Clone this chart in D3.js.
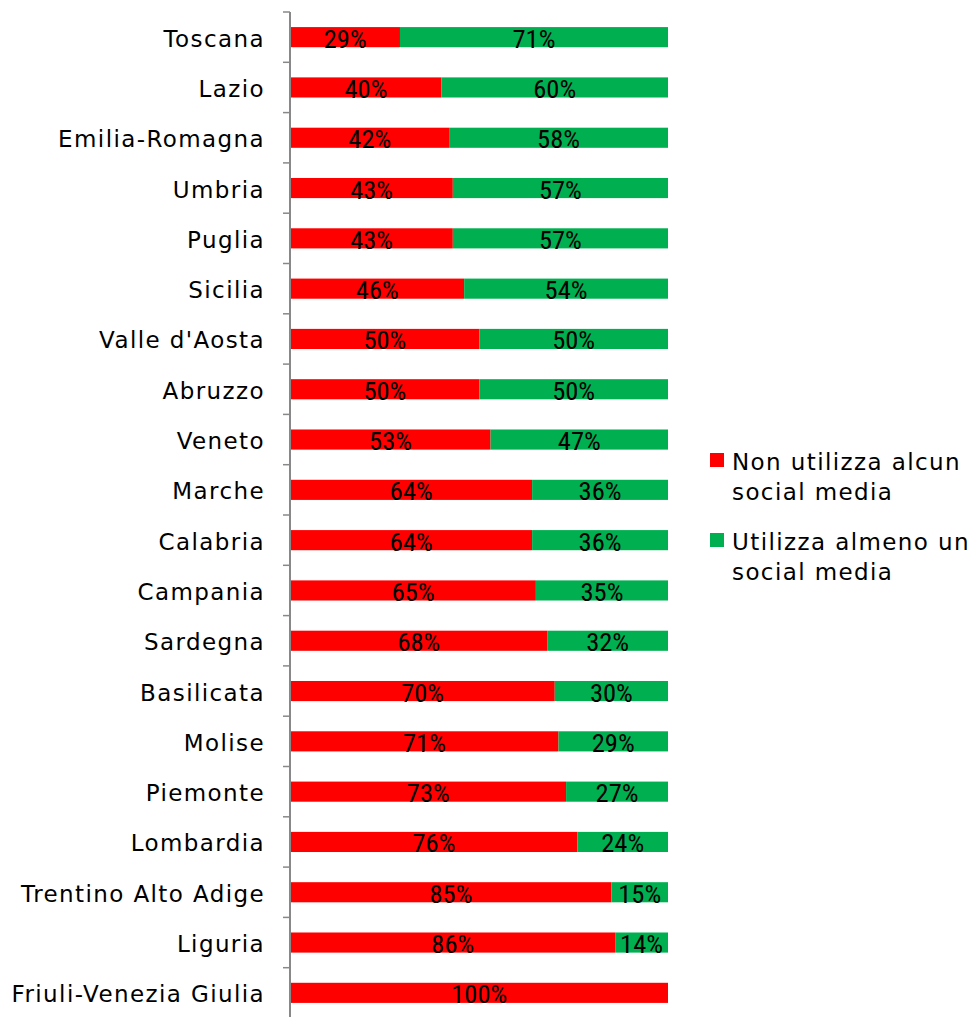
<!DOCTYPE html>
<html><head><meta charset="utf-8">
<script src="https://cdn.jsdelivr.net/npm/d3@7"></script>
<style>body{margin:0;background:#fff}</style>
</head><body>
<svg id="c" width="972" height="1017"></svg>
<script>
const categories = ["Toscana","Lazio","Emilia-Romagna","Umbria","Puglia","Sicilia","Valle d'Aosta","Abruzzo","Veneto","Marche","Calabria","Campania","Sardegna","Basilicata","Molise","Piemonte","Lombardia","Trentino Alto Adige","Liguria","Friuli-Venezia Giulia"];
const nonUsa = [29,40,42,43,43,46,50,50,53,64,64,65,68,70,71,73,76,85,86,100];
const usa    = [71,60,58,57,57,54,50,50,47,36,36,35,32,30,29,27,24,15,14,0];
const seriesNames = ["Non utilizza alcun social media","Utilizza almeno un social media"];
const legendLines = [["Non utilizza alcun","social media"],["Utilizza almeno un","social media"]];
const colors = ["#FF0000","#00B050"];

const svg = d3.select("#c");
const x = d3.scaleLinear().domain([0,100]).range([290.5,668]);
const y = d3.scaleBand().domain(categories).range([12,1018]).paddingInner(0.6).paddingOuter(0.3);
const yb = d3.scaleBand().domain(categories).range([12,1018]);

const labelFont = "'DejaVu Sans',sans-serif";
const data = categories.map((c,i)=>({c, v:[nonUsa[i], usa[i]]}));
const g = svg.append("g");
data.forEach(d=>{
  let acc=0;
  d.v.forEach((v,k)=>{
    if(v>0){
      g.append("rect").attr("x",x(acc)).attr("y",y(d.c)).attr("width",x(acc+v)-x(acc)).attr("height",y.bandwidth()).attr("fill",colors[k]);
      g.append("text").attr("x",(x(acc)+x(acc+v))/2).attr("y",y(d.c)+y.bandwidth()/2+10.5)
        .attr("text-anchor","middle").attr("font-family","'Liberation Sans Narrow','Roboto Condensed','Liberation Sans',sans-serif")
        .attr("font-size",26.5).attr("fill","#000").text(v+"%");
    }
    acc+=v;
  });
});

// axis
const ax = svg.append("g");
ax.append("line").attr("x1",290).attr("x2",290).attr("y1",12).attr("y2",1018).attr("stroke","#888").attr("stroke-width",2);
categories.forEach(c=>{
  ax.append("line").attr("x1",283).attr("x2",290).attr("y1",yb(c)).attr("y2",yb(c)).attr("stroke","#888").attr("stroke-width",1.5);
  ax.append("text").attr("x",265).attr("y",yb(c)+yb.bandwidth()/2+9.5).attr("text-anchor","end")
    .attr("font-family",labelFont).attr("font-size",23).attr("letter-spacing",1.4).attr("fill","#000").text(c);
});

// legend
const lg = svg.append("g");
const ly = [453,533];
legendLines.forEach((lines,k)=>{
  lg.append("rect").attr("x",710).attr("y",ly[k]).attr("width",14).attr("height",14).attr("fill",colors[k]);
  lines.forEach((t,j)=>{
    lg.append("text").attr("x",732).attr("y",ly[k]+17+j*30).attr("font-family",labelFont)
      .attr("font-size",23).attr("letter-spacing",1.4).attr("fill","#000").text(t);
  });
});
</script>
</body></html>
